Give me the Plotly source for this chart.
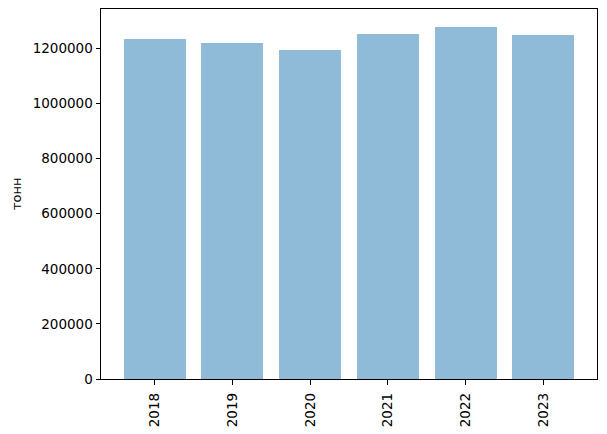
import plotly.graph_objects as go

years = ["2018", "2019", "2020", "2021", "2022", "2023"]
values = [1234000, 1220000, 1194000, 1252000, 1278000, 1249000]
y_ticks = [0, 200000, 400000, 600000, 800000, 1000000, 1200000]
y_label = "тонн"

# page body has an 8px margin; figure sized so plot area lands where the reference has it
W, H = 599, 426
L, R, T, B = 93, 9.5, 1, 54.8

fig = go.Figure()
fig.add_trace(go.Bar(
    x=years, y=values, width=0.8,
    marker=dict(color="rgba(31,119,180,0.5)", line=dict(width=0)),
))

font = dict(family="DejaVu Sans", size=13.5, color="black")
fig.update_layout(
    width=W, height=H,
    margin=dict(l=L, r=R, t=T, b=B, pad=0, autoexpand=False),
    paper_bgcolor="white", plot_bgcolor="white",
    showlegend=False, font=font, bargap=0,
)
fig.update_xaxes(
    type="category", range=[-0.69, 5.69], automargin=False,
    showline=True, linecolor="black", linewidth=1, mirror=True,
    ticks="outside", ticklen=4.5, tickwidth=1, tickcolor="black",
    tickangle=-90, showgrid=False, zeroline=False, tickfont=font,
    ticklabelstandoff=3,
)
fig.update_yaxes(
    range=[0, 1343000], tickvals=y_ticks, ticktext=[str(v) for v in y_ticks],
    automargin=False,
    showline=True, linecolor="black", linewidth=1, mirror=True,
    ticks="outside", ticklen=4.5, tickwidth=1, tickcolor="black",
    showgrid=False, zeroline=False, tickfont=font,
)
plot_w = W - L - R
fig.add_annotation(
    text=y_label, xref="paper", yref="paper", x=(16 - 8 - L) / plot_w, y=0.5,
    xanchor="center", yanchor="middle", textangle=-90, showarrow=False,
    font=dict(family="DejaVu Sans", size=13, color="black"),
)
fig.write_html("out.html")
